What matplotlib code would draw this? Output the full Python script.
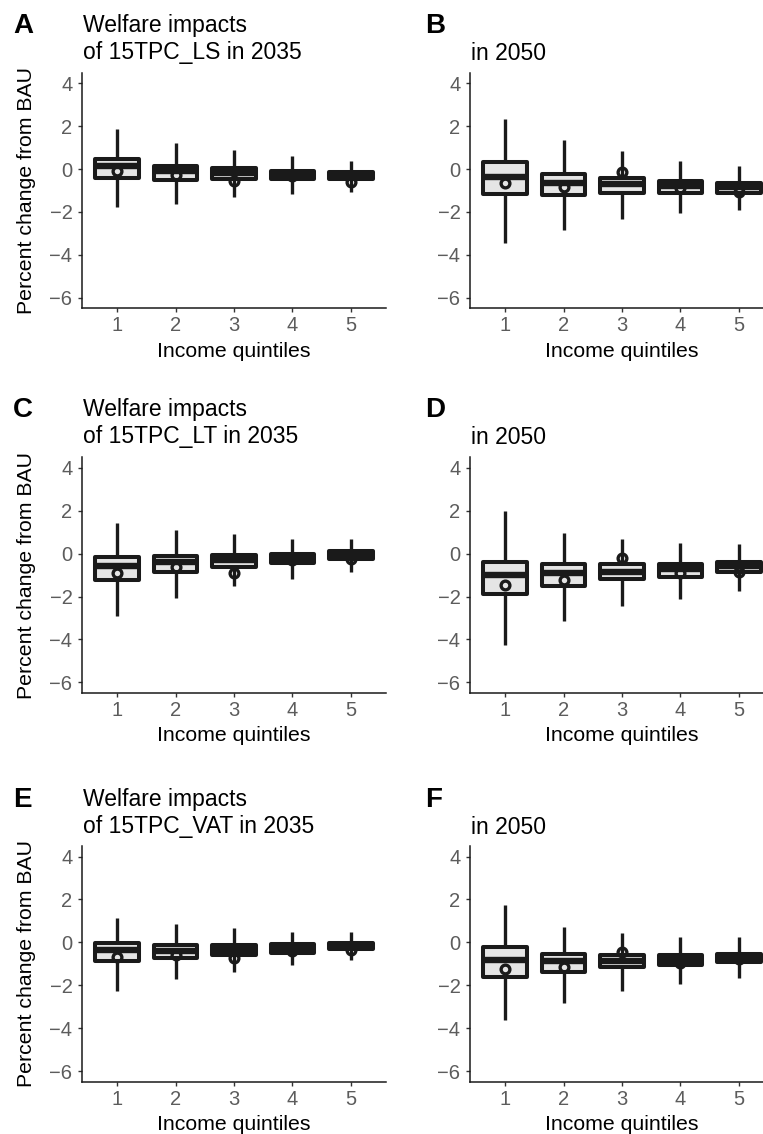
import matplotlib
matplotlib.use("Agg")
import matplotlib.pyplot as plt

plt.rcParams['font.family'] = ['Liberation Sans', 'DejaVu Sans']

# panel letters and titles
letters = ['A', 'B', 'C', 'D', 'E', 'F']
titles = [['Welfare impacts', 'of 15TPC_LS in 2035'], ['in 2050'],
          ['Welfare impacts', 'of 15TPC_LT in 2035'], ['in 2050'],
          ['Welfare impacts', 'of 15TPC_VAT in 2035'], ['in 2050']]
quintiles = [1, 2, 3, 4, 5]

# box statistics per panel (A..F), one value per income quintile
whishi = [[1.85, 1.23, 0.89, 0.61, 0.37],
          [2.32, 1.36, 0.84, 0.39, 0.14],
          [1.44, 1.09, 0.90, 0.68, 0.70],
          [1.99, 0.98, 0.70, 0.48, 0.44],
          [1.14, 0.84, 0.65, 0.50, 0.47],
          [1.75, 0.70, 0.42, 0.27, 0.27]]
q3 = [[0.49, 0.12, 0.04, -0.08, -0.15],
      [0.31, -0.24, -0.40, -0.55, -0.63],
      [-0.17, -0.10, -0.05, -0.02, 0.13],
      [-0.38, -0.49, -0.49, -0.49, -0.38],
      [-0.05, -0.14, -0.13, -0.10, -0.03],
      [-0.24, -0.54, -0.58, -0.61, -0.55]]
med = [[0.15, -0.10, -0.17, -0.28, -0.33],
       [-0.36, -0.67, -0.72, -0.79, -0.86],
       [-0.59, -0.37, -0.28, -0.21, -0.10],
       [-0.99, -0.91, -0.85, -0.73, -0.57],
       [-0.37, -0.39, -0.35, -0.30, -0.18],
       [-0.83, -0.87, -0.87, -0.84, -0.71]]
q1 = [[-0.40, -0.52, -0.48, -0.48, -0.48],
      [-1.16, -1.22, -1.11, -1.11, -1.10],
      [-1.23, -0.85, -0.60, -0.42, -0.27],
      [-1.90, -1.51, -1.20, -1.07, -0.86],
      [-0.89, -0.71, -0.57, -0.48, -0.29],
      [-1.60, -1.37, -1.17, -1.06, -0.91]]
whislo = [[-1.76, -1.64, -1.32, -1.18, -1.06],
          [-3.43, -2.85, -2.34, -2.07, -1.92],
          [-2.90, -2.09, -1.53, -1.19, -0.87],
          [-4.25, -3.16, -2.45, -2.12, -1.73],
          [-2.25, -1.70, -1.36, -1.05, -0.82],
          [-3.62, -2.82, -2.28, -1.95, -1.64]]
means = [[-0.08, -0.28, -0.56, -0.33, -0.59],
         [-0.64, -0.86, -0.16, -0.87, -1.06],
         [-0.90, -0.62, -0.91, -0.30, -0.24],
         [-1.46, -1.21, -0.19, -0.88, -0.85],
         [-0.69, -0.59, -0.71, -0.40, -0.35],
         [-1.24, -1.14, -0.43, -0.95, -0.79]]

W, H = 763, 1134
fig = plt.figure(figsize=(W / 100, H / 100), dpi=100)

col_left = [82, 470]
row_top = [72.7, 457.3, 846]
ax_w, ax_h = 304, 235.6
letter_base = [33, 417, 807]

dark = '#1a1a1a'

for i in range(6):
    r, c = i // 2, i % 2
    left, top = col_left[c], row_top[r]
    ax = fig.add_axes([left / W, 1 - (top + ax_h) / H, ax_w / W, ax_h / H])

    stats = []
    for j in range(5):
        stats.append(dict(med=med[i][j], q1=q1[i][j], q3=q3[i][j],
                          whislo=whislo[i][j], whishi=whishi[i][j],
                          mean=means[i][j], fliers=[]))
    ax.bxp(stats, positions=quintiles, widths=0.75, patch_artist=True,
           showcaps=False, showfliers=False, showmeans=True,
           boxprops=dict(facecolor='#e5e5e5', edgecolor=dark, linewidth=2.9,
                         joinstyle='round'),
           whiskerprops=dict(color=dark, linewidth=2.4, solid_capstyle='butt'),
           medianprops=dict(color=dark, linewidth=4.6, solid_capstyle='butt'),
           meanprops=dict(marker='o', markerfacecolor='none', markeredgecolor=dark,
                          markersize=6.3, markeredgewidth=2.4, zorder=5))

    ax.set_xlim(0.4, 5.6)
    ax.set_ylim(-6.49, 4.49)
    ax.set_xticks(quintiles)
    ax.set_xticklabels([str(q) for q in quintiles])
    ax.set_yticks([4, 2, 0, -2, -4, -6])
    ax.set_yticklabels(['4', '2', '0', '\u22122', '\u22124', '\u22126'])
    for s in ['top', 'right']:
        ax.spines[s].set_visible(False)
    for s in ['left', 'bottom']:
        ax.spines[s].set_linewidth(1.1)
        ax.spines[s].set_color(dark)
    ax.tick_params(axis='both', length=2.9, width=1.0, color='#333333',
                   labelsize=14.5, labelcolor='#5c5c5c')
    ax.tick_params(axis='x', pad=3)
    ax.tick_params(axis='y', pad=4)

    ax.set_xlabel('Income quintiles', fontsize=15.3, va='baseline')
    ax.xaxis.set_label_coords(0.5, -48.5 / ax_h)
    if c == 0:
        ax.set_ylabel('Percent change from BAU', fontsize=15.3, va='center')
        ax.yaxis.set_label_coords((27 - left) / ax_w, 0.5)

    # panel letter and title
    lx = 13 if c == 0 else 425
    fig.text(lx / W, 1 - letter_base[r] / H, letters[i], fontsize=20,
             fontweight='bold', va='baseline', ha='left')
    lines = titles[i]
    base2 = letter_base[r] + 26
    if len(lines) == 2:
        fig.text((left + 1) / W, 1 - (letter_base[r] - 1) / H, lines[0],
                 fontsize=16.5, va='baseline', ha='left')
        fig.text((left + 1) / W, 1 - base2 / H, lines[1],
                 fontsize=16.5, va='baseline', ha='left')
    else:
        fig.text((left + 1) / W, 1 - (base2 + 1) / H, lines[0],
                 fontsize=16.5, va='baseline', ha='left')

fig.savefig('out.png', dpi=100)
